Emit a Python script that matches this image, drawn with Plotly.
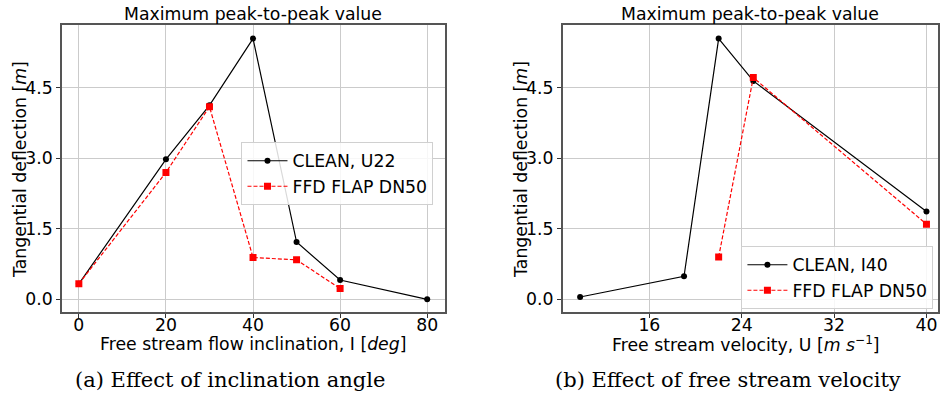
import plotly.graph_objects as go

# Left panel: effect of inclination angle
incl_clean = [0, 20, 30, 40, 50, 60, 80]
defl_clean_incl = [0.33, 2.98, 4.13, 5.55, 1.22, 0.41, 0.0]
incl_flap = [0, 20, 30, 40, 50, 60]
defl_flap_incl = [0.33, 2.70, 4.10, 0.89, 0.84, 0.23]

# Right panel: effect of free stream velocity
vel_clean = [10, 19, 22, 25, 40]
defl_clean_vel = [0.05, 0.49, 5.55, 4.65, 1.87]
vel_flap = [22, 25, 40]
defl_flap_vel = [0.90, 4.72, 1.60]

left_xticks = [0, 20, 40, 60, 80]
right_xticks = [16, 24, 32, 40]
yticks = [0.0, 1.5, 3.0, 4.5]
ytick_text = ["0.0", "1.5", "3.0", "4.5"]

W, H = 940, 395
FONT = "DejaVu Sans"
SERIF = "DejaVu Serif"
FS = 17.3

def px(x):
    return x / W

def py(y):
    return 1 - y / H

fig = go.Figure()

clean_line = dict(color="black", width=1.2)
clean_marker = dict(symbol="circle", size=6, color="black")
flap_line = dict(color="red", width=1.2, dash="4px,2px")
flap_marker = dict(symbol="square", size=7, color="red")

fig.add_trace(go.Scatter(x=incl_clean, y=defl_clean_incl, mode="lines+markers",
                         name="CLEAN, U22", line=clean_line, marker=clean_marker,
                         xaxis="x", yaxis="y", legend="legend"))
fig.add_trace(go.Scatter(x=incl_flap, y=defl_flap_incl, mode="lines+markers",
                         name="FFD FLAP DN50", line=flap_line, marker=flap_marker,
                         xaxis="x", yaxis="y", legend="legend"))
fig.add_trace(go.Scatter(x=vel_clean, y=defl_clean_vel, mode="lines+markers",
                         name="CLEAN, I40", line=clean_line, marker=clean_marker,
                         xaxis="x2", yaxis="y2", legend="legend2"))
fig.add_trace(go.Scatter(x=vel_flap, y=defl_flap_vel, mode="lines+markers",
                         name="FFD FLAP DN50", line=flap_line, marker=flap_marker,
                         xaxis="x2", yaxis="y2", legend="legend2"))

ydom = [py(312), py(25)]
axis_common = dict(showgrid=True, gridcolor="#cbcbcb", gridwidth=1,
                   ticks="outside", ticklen=4, tickcolor="#333", tickwidth=1,
                   showline=True, mirror=True, linecolor="#555", linewidth=1.5,
                   zeroline=False, tickfont=dict(family=FONT, size=FS, color="black"))

yrange = [-0.27, 5.84]

fig.update_layout(
    width=W, height=H, margin=dict(l=0, r=0, t=0, b=0),
    paper_bgcolor="white", plot_bgcolor="white",
    font=dict(family=FONT, size=FS, color="black"),
    xaxis=dict(domain=[px(62), px(446)], range=[-3.9, 84.1], tickvals=left_xticks,
               anchor="y", ticklabelstandoff=-8, **axis_common),
    yaxis=dict(domain=ydom, range=yrange, tickvals=yticks, ticktext=ytick_text,
               anchor="x", **axis_common),
    xaxis2=dict(domain=[px(564), 1.0], range=[8.5, 41.0], tickvals=right_xticks,
                anchor="y2", ticklabelstandoff=-8, **axis_common),
    yaxis2=dict(domain=ydom, range=yrange, tickvals=yticks, ticktext=ytick_text,
                anchor="x2", **axis_common),
    legend=dict(x=px(242), y=py(142), xanchor="left", yanchor="top",
                bgcolor="rgba(255,255,255,0.85)", bordercolor="#d0d0d0", borderwidth=1,
                font=dict(family=FONT, size=FS), tracegroupgap=0, itemwidth=40),
    legend2=dict(x=px(743), y=py(246), xanchor="left", yanchor="top",
                 bgcolor="rgba(255,255,255,0.85)", bordercolor="#d0d0d0", borderwidth=1,
                 font=dict(family=FONT, size=FS), tracegroupgap=0, itemwidth=40),
    showlegend=True,
)

annotations = [
    dict(text="Maximum peak-to-peak value", x=px(254), y=py(14)),
    dict(text="Maximum peak-to-peak value", x=px(752), y=py(14)),
    dict(text="Tangential deflection [<i>m</i>]", x=px(20), y=py(169), textangle=-90),
    dict(text="Tangential deflection [<i>m</i>]", x=px(522), y=py(169), textangle=-90),
    dict(text="Free stream flow inclination, I [<i>deg</i>]", x=px(254), y=py(344)),
    dict(text="Free stream velocity, U [<i>m s</i><sup>−1</sup>]", x=px(748), y=py(344)),
    dict(text="(a) Effect of inclination angle", x=px(230), y=py(380),
         font=dict(family=SERIF, size=21)),
    dict(text="(b) Effect of free stream velocity", x=px(730), y=py(380),
         font=dict(family=SERIF, size=21)),
]
for a in annotations:
    a.setdefault("font", dict(size=FS))
    a["font"].setdefault("family", FONT)
    a["font"].setdefault("color", "black")
    fig.add_annotation(xref="paper", yref="paper", showarrow=False,
                       xanchor="center", yanchor="middle", **a)

fig.write_html("out.html")
